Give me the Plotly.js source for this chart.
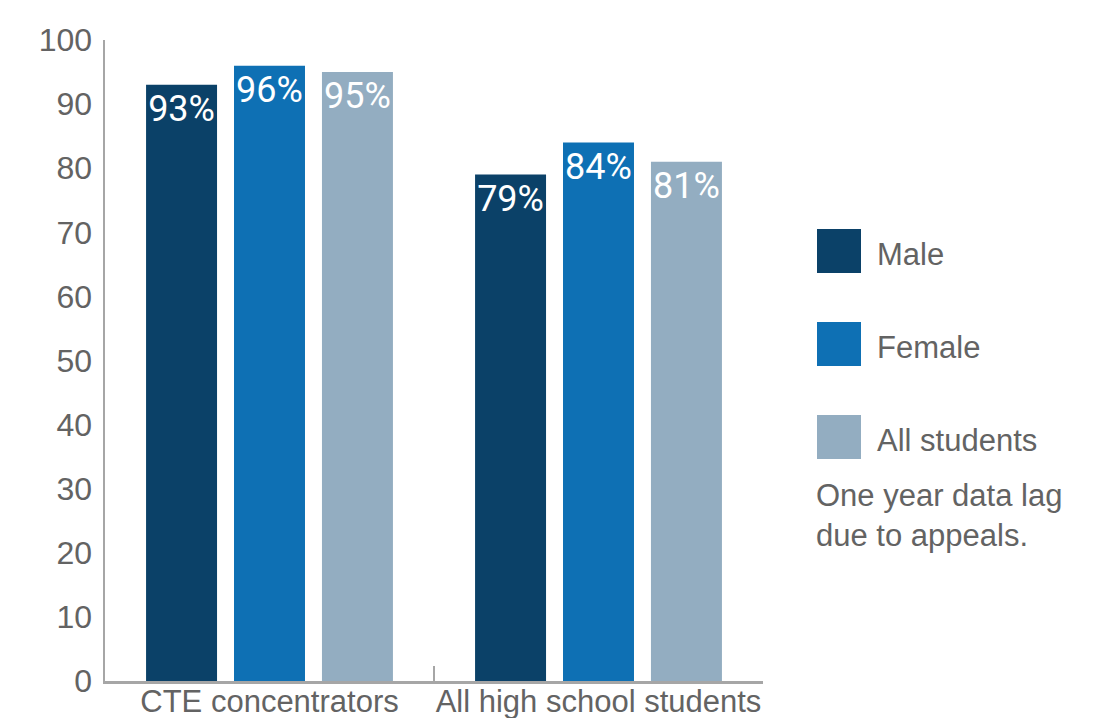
<!DOCTYPE html>
<html>
<head>
<meta charset="utf-8">
<script src="https://cdn.plot.ly/plotly-3.0.1.min.js"></script>
<style>html,body{margin:0;padding:0;background:#fff;}#chart{width:1117px;height:718px;}</style>
</head>
<body>
<div id="chart"></div>
<script>
// ---- data ----
const categories = ["CTE concentrators", "All high school students"];
const seriesNames = ["Male", "Female", "All students"];
const maleValues = [93, 79];
const femaleValues = [96, 84];
const allValues = [95, 81];
const seriesColors = ["#0B4168", "#0E70B4", "#93ADC1"];
const yTicks = [0, 10, 20, 30, 40, 50, 60, 70, 80, 90, 100];
const noteText = "One year data lag<br>due to appeals.";

// ---- layout geometry (pixels) ----
const W = 1117, H = 718;
const L = 105, R = 763, T = 40, B = 681;
const px = x => (x - L) / (R - L);
const py = y => (B - y) / (B - T);
const textGrey = "#636363";

const seriesValues = [maleValues, femaleValues, allValues];
const traces = seriesNames.map((name, i) => ({
  type: "bar",
  name: name,
  x: categories,
  y: seriesValues[i],
  marker: {color: seriesColors[i]},
  texttemplate: "%{y}%",
  textposition: "inside",
  insidetextanchor: "end",
  textangle: 0,
  constraintext: "none",
  insidetextfont: {color: "#ffffff", size: 36, family: "Roboto, Liberation Sans, Arial, sans-serif"},
  hoverinfo: "skip",
  showlegend: false
}));

const shapes = [];
const annotations = [];
const legendTop = [229, 322, 415];
seriesNames.forEach((name, i) => {
  const t = legendTop[i];
  shapes.push({type: "rect", xref: "paper", yref: "paper",
    x0: px(817), x1: px(861), y0: py(t + 44), y1: py(t),
    fillcolor: seriesColors[i], line: {width: 0}});
  annotations.push({xref: "paper", yref: "paper", x: px(875), y: py(t + 25),
    xanchor: "left", yanchor: "middle", text: name, showarrow: false,
    font: {size: 31, color: textGrey, family: "Liberation Sans, Arial, sans-serif"}});
});
annotations.push({xref: "paper", yref: "paper", x: px(814), y: py(515),
  xanchor: "left", yanchor: "middle", align: "left", text: noteText, showarrow: false,
  font: {size: 31, color: textGrey, family: "Liberation Sans, Arial, sans-serif"}});
// category divider tick
shapes.push({type: "line", xref: "paper", yref: "paper",
  x0: 0.5, x1: 0.5, y0: 0, y1: 15 / (B - T), line: {color: "#A6A6A6", width: 2}});

const layout = {
  width: W, height: H,
  margin: {l: L, r: W - R, t: T, b: H - B, pad: 0},
  paper_bgcolor: "#ffffff", plot_bgcolor: "#ffffff",
  barmode: "group",
  bargap: 0.198,
  bargroupgap: 0.193,
  showlegend: false,
  font: {family: "Liberation Sans, Arial, sans-serif", color: textGrey},
  xaxis: {
    type: "category",
    showline: true, linecolor: "#A6A6A6", linewidth: 2.5,
    showgrid: false, zeroline: false, ticks: "",
    ticklabelstandoff: -9,
    tickfont: {size: 31, color: textGrey},
    automargin: false, fixedrange: true
  },
  yaxis: {
    range: [0, 100], tickvals: yTicks,
    showline: true, linecolor: "#A6A6A6", linewidth: 2.5,
    showgrid: false, zeroline: false, ticks: "",
    ticklabelstandoff: 4,
    tickfont: {size: 32, color: textGrey},
    automargin: false, fixedrange: true
  },
  shapes: shapes,
  annotations: annotations
};

Plotly.newPlot("chart", traces, layout, {displayModeBar: false, staticPlot: true});
</script>
</body>
</html>
